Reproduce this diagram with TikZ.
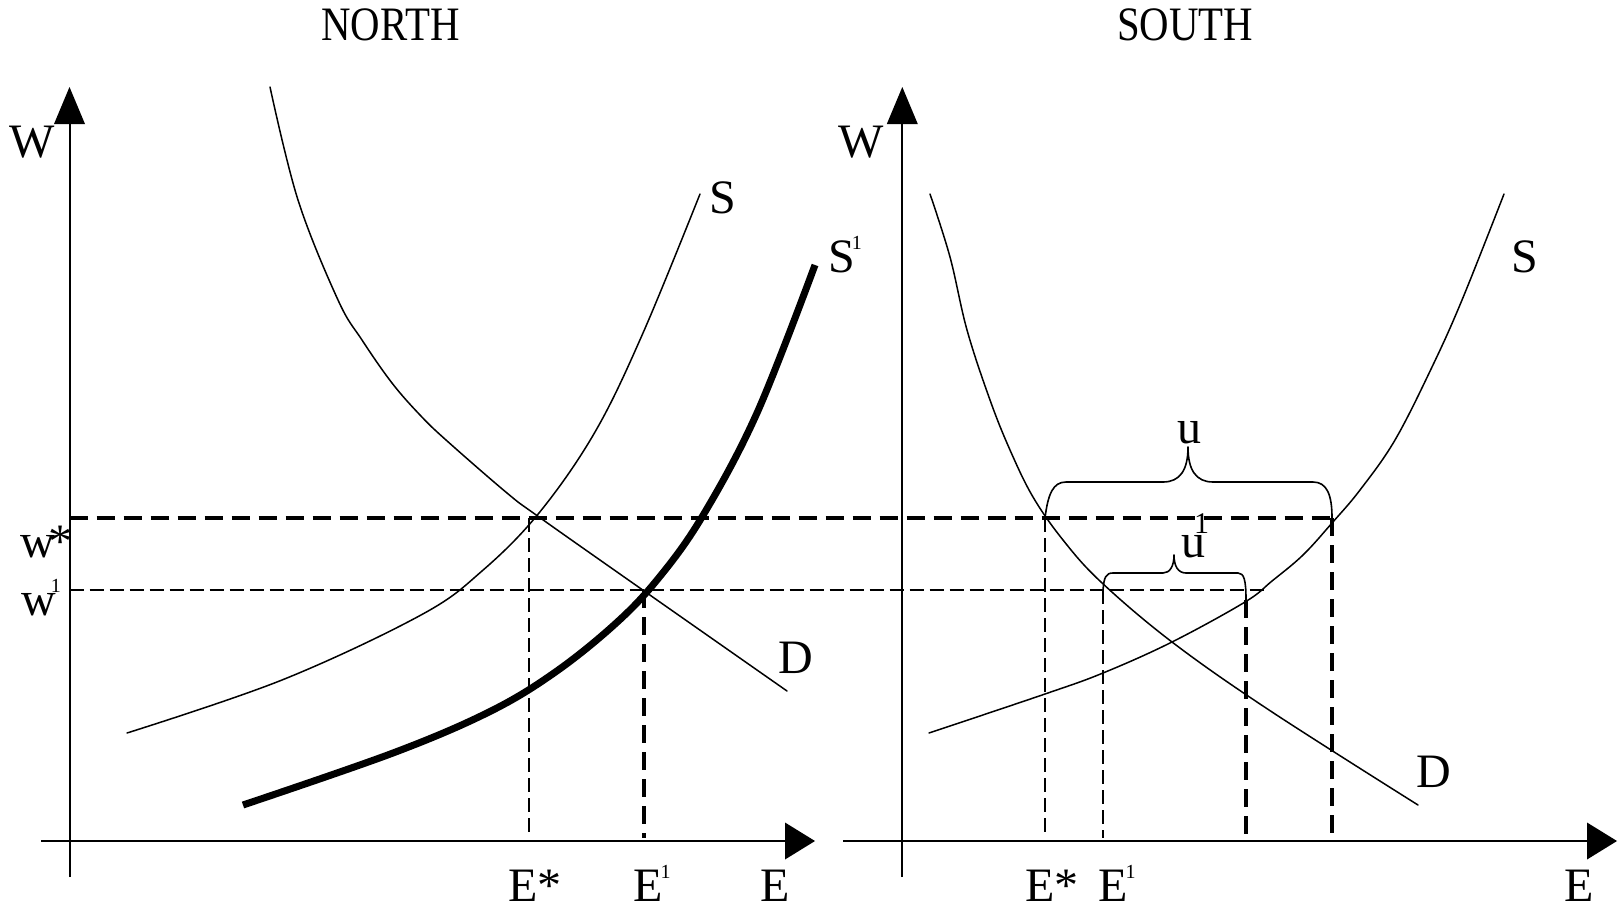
\documentclass[tikz,border=0pt]{standalone}
\usepackage{fontspec}
\setmainfont{Liberation Serif}
\newcommand\supone[1][0pt]{\kern#1\raisebox{23pt}{\fontsize{20}{20}\selectfont 1}}
\begin{document}
\begin{tikzpicture}[x=1pt,y=-1pt,
  lab/.style={inner sep=0pt, font=\fontsize{48}{50}\selectfont},
  thinc/.style={line width=1.5pt, line join=round, line cap=round},
  thickc/.style={line width=7pt, line join=round},
  axisline/.style={line width=2pt},
  tip/.style={fill=black, draw=none},
  dthin/.style={line width=1.8pt, dash pattern=on 14pt off 6pt},
  dthick/.style={line width=3.6pt, dash pattern=on 18pt off 9pt},
  bracec/.style={line width=1.6pt, line join=round}]
\useasboundingbox (0,0) rectangle (1619,910);

% ---------- titles ----------
\node[lab, anchor=base] (north) at (390.5,40.7) {\scalebox{0.85}[1]{NORTH}};
\node[lab, anchor=base] (south) at (1185,40.7) {\scalebox{0.85}[1]{SOUTH}};

% ---------- axes ----------
\coordinate (lyb) at (69.5,877);
\coordinate (lyt) at (69.5,124);
\coordinate (lxl) at (41,841);
\coordinate (lxr) at (786,841);
\coordinate (ryb) at (902.3,877);
\coordinate (ryt) at (902.3,124);
\coordinate (rxl) at (843,841);
\coordinate (rxr) at (1588,841);
\draw[axisline] (lyb) -- (lyt);
\draw[axisline] (lxl) -- (lxr);
\draw[axisline] (ryb) -- (ryt);
\draw[axisline] (rxl) -- (rxr);
\fill[tip] (69.5,87) -- (54,124) -- (85,124) -- cycle;
\fill[tip] (902.3,87) -- (886.8,124) -- (917.8,124) -- cycle;
\fill[tip] (815,841) -- (785,822.5) -- (785,859.5) -- cycle;
\fill[tip] (1617,841) -- (1587,822.5) -- (1587,859.5) -- cycle;

% ---------- dashed guide lines ----------
\draw[dthick] (69.5,518) -- (1332,518);
\draw[dthin]  (69.5,590) -- (1269,590);
\draw[dthin]  (528.6,518) -- (528.6,838);
\draw[dthick] (644,590) -- (644,838);
\draw[dthin]  (1045,518) -- (1045,838);
\draw[dthin]  (1103,590) -- (1103,838);
\draw[dthick] (1246,600) -- (1246,838);
\draw[dthick] (1332,518) -- (1332,838);

% ---------- NORTH curves ----------
\draw[thinc] plot[smooth, tension=0.6] coordinates {
  (270,87) (298,200) (338,300) (362,340) (392,383) (420,415) (446,440)
  (507,493) (539,517) (647,593) (787,691)};
\draw[thinc] plot[smooth, tension=0.6] coordinates {
  (127,733) (282,680) (421,615) (482,571) (539,513) (595,432) (643,333) (700,194)};
\draw[thickc] plot[smooth, tension=0.6] coordinates {
  (243,805) (393,753) (489,712) (554,673) (614,625) (657,580) (702,517)
  (757,413) (815,265)};

% ---------- SOUTH curves ----------
\draw[thinc] plot[smooth, tension=0.6] coordinates {
  (930,194) (950,257) (967,330) (990,400) (1010,450) (1033,497) (1063,540)
  (1101,582) (1172,642) (1269,710) (1418,805)};
\draw[thinc] plot[smooth, tension=0.6] coordinates {
  (929,733) (1045,694) (1103,673) (1172,642) (1245,602) (1272,581) (1303,555)
  (1332,523) (1360,490) (1395,440) (1432,367) (1462,300) (1504,194)};

% ---------- braces ----------
\draw[bracec] (1045,518) .. controls (1048,494) and (1053,482) .. (1066,482)
  -- (1163,482) .. controls (1180,482) and (1188,470) .. (1188,447)
  .. controls (1188,470) and (1196,482) .. (1213,482)
  -- (1313,482) .. controls (1327,482) and (1332,495) .. (1332,518);
\draw[bracec] (1103,590) .. controls (1104,577) and (1106,573) .. (1113,573)
  -- (1163,573) .. controls (1170,573) and (1174,566) .. (1174,555)
  .. controls (1174,566) and (1178,573) .. (1186,573)
  -- (1238,573) .. controls (1244,573) and (1246,580) .. (1246,600);

% ---------- labels ----------
\node[lab, anchor=base] (Wl) at (32,157) {W};
\node[lab, anchor=base] (Wr) at (861.5,157) {W};
\node[lab, anchor=base west] (wstar) at (20,557) {w\kern-6pt*};
\node[lab, anchor=base west] (wone) at (21,615) {w\supone[-5pt]};
\node[lab, anchor=base west] (Sn) at (709,213) {S};
\node[lab, anchor=base west] (Sone) at (828,272) {S\supone[-3pt]};
\node[lab, anchor=base west] (Dn) at (778,673) {D};
\node[lab, anchor=base west] (Estl) at (508,901) {E*};
\node[lab, anchor=base west] (Eonel) at (633,901) {E\supone[-2pt]};
\node[lab, anchor=base west] (El) at (760,901) {E};
\node[lab, anchor=base west] (Estr) at (1025,901) {E*};
\node[lab, anchor=base west] (Eoner) at (1098,901) {E\supone[-2pt]};
\node[lab, anchor=base west] (Er) at (1564,901) {E};
\node[lab, anchor=base west] (Ss) at (1511,272) {S};
\node[lab, anchor=base west] (Ds) at (1416,787) {D};
\node[lab, anchor=base] (u) at (1189,443) {u};
\node[lab, anchor=base west] (uone) at (1181,557) {u\kern-11pt\raisebox{24pt}{\fontsize{30}{30}\selectfont 1}};
\end{tikzpicture}
\end{document}
